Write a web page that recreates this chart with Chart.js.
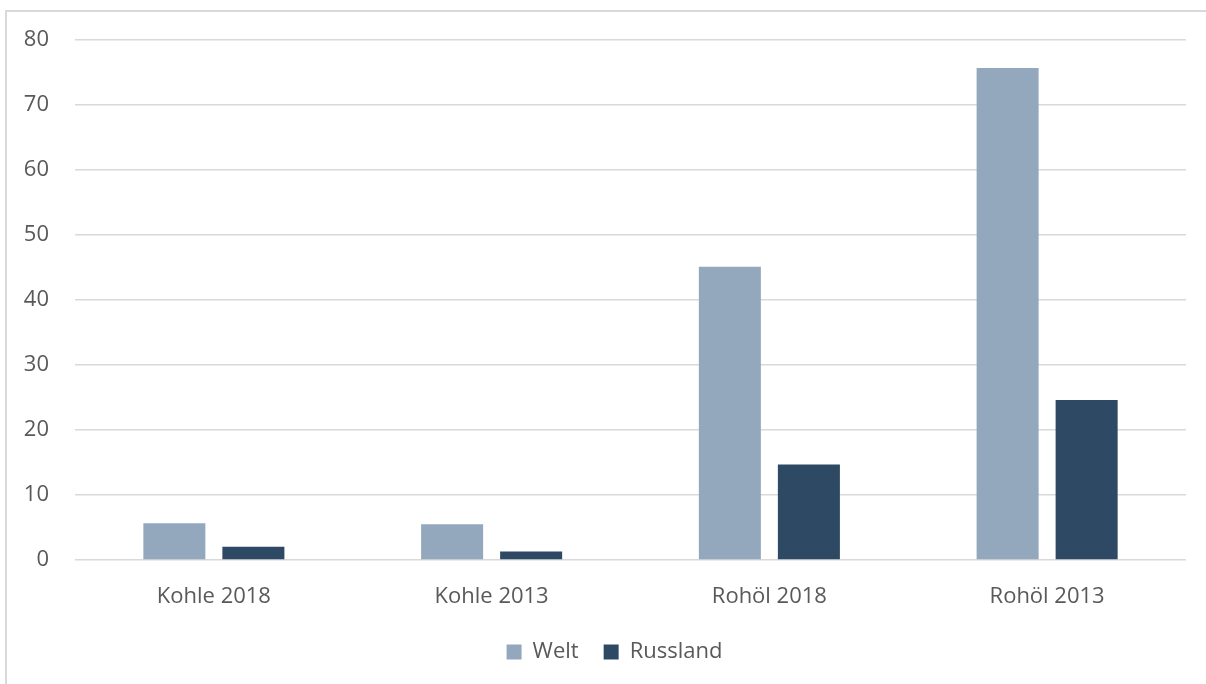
<!DOCTYPE html>
<html>
<head>
<meta charset="utf-8">
<script src="https://cdn.jsdelivr.net/npm/chart.js@4/dist/chart.umd.min.js"></script>
<style>
  html, body { margin: 0; padding: 0; background: #ffffff; overflow: hidden; }
  #frame { position: absolute; left: 5px; top: 10px; width: 1400px; height: 900px; border: 2px solid #d9d9d9; box-sizing: border-box; }
  #wrap { position: absolute; left: 0; top: 0; width: 1206px; height: 684px; }
</style>
</head>
<body>
<div id="frame"></div>
<div id="wrap"><canvas id="c" width="1206" height="684"></canvas></div>
<script>
const categories = ["Kohle 2018", "Kohle 2013", "Rohöl 2018", "Rohöl 2013"];
const seriesNames = ["Welt", "Russland"];
const weltValues = [5.65, 5.5, 45.1, 75.7];
const russlandValues = [2.05, 1.3, 14.7, 24.6];
const yTicks = [0, 10, 20, 30, 40, 50, 60, 70, 80];

const textColor = "#595959";
const fontFamily = "'Open Sans', sans-serif";

const legendShift = {
  id: "legendShift",
  afterLayout(chart) {
    if (chart.legend) { chart.legend.left += 43; }
  }
};

new Chart(document.getElementById("c"), {
  type: "bar",
  data: {
    labels: categories,
    datasets: [
      { label: seriesNames[0], data: weltValues, backgroundColor: "#94a8bd", borderWidth: 0,
        categoryPercentage: 0.569, barPercentage: 0.785 },
      { label: seriesNames[1], data: russlandValues, backgroundColor: "#2e4964", borderWidth: 0,
        categoryPercentage: 0.569, barPercentage: 0.785 }
    ]
  },
  plugins: [legendShift],
  options: {
    responsive: false,
    animation: false,
    events: [],
    layout: { padding: { left: 0, right: 20, top: 40, bottom: 11 } },
    plugins: {
      tooltip: { enabled: false },
      legend: {
        position: "bottom",
        labels: {
          boxWidth: 15, boxHeight: 15, padding: 25,
          color: textColor,
          font: { family: fontFamily, size: 22 }
        }
      }
    },
    scales: {
      x: {
        grid: { display: false, drawTicks: false },
        border: { display: false },
        ticks: { color: textColor, font: { family: fontFamily, size: 22 }, padding: 24, maxRotation: 0 },
        afterFit(s) { s.height = 56; }
      },
      y: {
        min: 0, max: 80,
        afterBuildTicks(s) { s.ticks = yTicks.map(v => ({ value: v })); },
        grid: { color: "#d9d9d9", lineWidth: 1.5, drawTicks: false },
        border: { display: false },
        ticks: { color: textColor, font: { family: fontFamily, size: 22 }, padding: 26 },
        afterFit(s) { s.width = 75; }
      }
    }
  }
});
</script>
</body>
</html>
